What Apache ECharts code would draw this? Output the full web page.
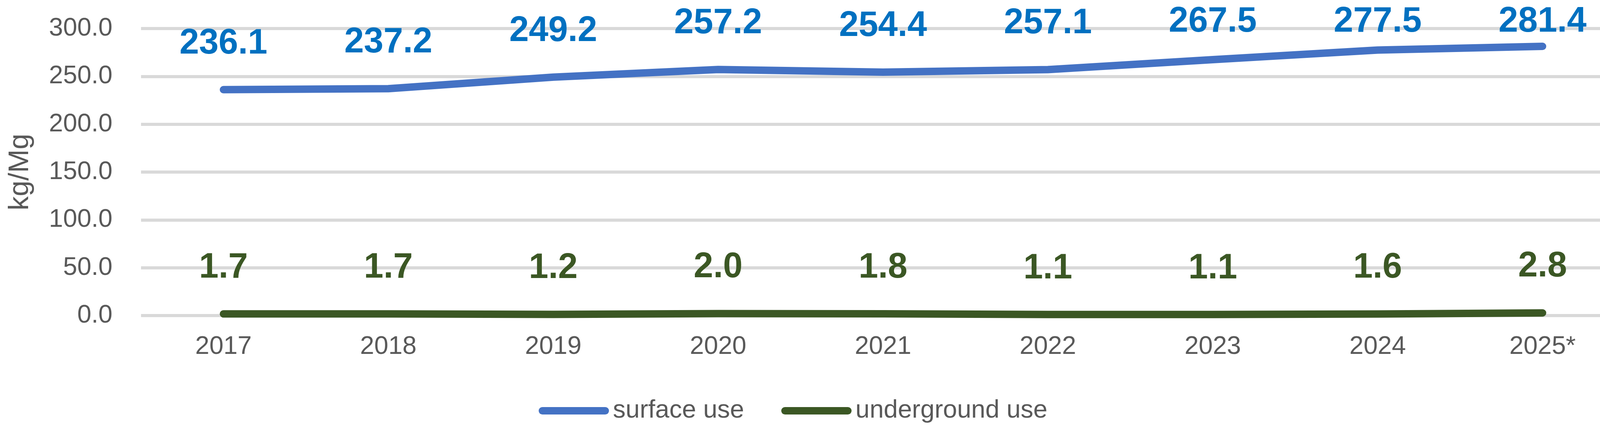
<!DOCTYPE html>
<html>
<head>
    <meta charset="utf-8">
    <title>kg/Mg surface and underground use</title>
    <script src="https://cdn.jsdelivr.net/npm/echarts@6.0.0/dist/echarts.min.js"></script>
    <style>
        html, body { margin: 0; padding: 0; background: #fff; }
        #chart { width: 4185px; height: 1115px; }
    </style>
</head>
<body>
    <div id="chart"></div>
    <script>
        var years = ['2017', '2018', '2019', '2020', '2021', '2022', '2023', '2024', '2025*'];
        var surfaceUse = [236.1, 237.2, 249.2, 257.2, 254.4, 257.1, 267.5, 277.5, 281.4];
        var undergroundUse = [1.7, 1.7, 1.2, 2.0, 1.8, 1.1, 1.1, 1.6, 2.8];
        var yTicks = { min: 0, max: 300, step: 50 };

        var font = '"Liberation Sans", Arial, sans-serif';
        var capsule = 'path://M9.5,0 H170.5 A9.5,9.5 0 0 1 170.5,19 H9.5 A9.5,9.5 0 0 1 9.5,0 Z';

        function lineSeries(name, data, lineColor, labelColor) {
            return {
                name: name,
                type: 'line',
                data: data,
                symbol: 'circle',
                symbolSize: 1,
                showSymbol: true,
                itemStyle: { color: lineColor },
                lineStyle: { color: lineColor, width: 19, cap: 'round', join: 'round' },
                label: {
                    show: true,
                    position: 'top',
                    distance: 72,
                    color: labelColor,
                    fontFamily: font,
                    fontSize: 90,
                    fontWeight: 'bold',
                    formatter: function (p) { return p.value.toFixed(1); }
                },
                // keep labels inside the chart like Excel does
                labelLayout: function (p) {
                    var top = 11;
                    if (p.labelRect.y < top) {
                        return { dy: top - p.labelRect.y };
                    }
                },
                emphasis: { disabled: true },
                animation: false
            };
        }

        var myChart = echarts.init(document.getElementById('chart'));
        var option = {
            backgroundColor: '#ffffff',
            animation: false,
            grid: { left: 361, right: 25, top: 73, bottom: 308, containLabel: false },
            legend: {
                data: [
                    { name: 'surface use', icon: capsule },
                    { name: 'underground use', icon: capsule }
                ],
                left: 1374,
                top: 1013,
                itemWidth: 180,
                itemHeight: 19,
                itemGap: 95,
                textStyle: { color: '#595959', fontFamily: font, fontSize: 65, padding: [0, 0, 0, 5] }
            },
            xAxis: {
                type: 'category',
                data: years,
                boundaryGap: true,
                axisLine: { show: false },
                axisTick: { show: false },
                splitLine: { show: false },
                axisLabel: { color: '#595959', fontFamily: font, fontSize: 65, margin: 48, interval: 0 }
            },
            yAxis: {
                type: 'value',
                min: yTicks.min,
                max: yTicks.max,
                interval: yTicks.step,
                name: 'kg/Mg',
                nameLocation: 'middle',
                nameGap: 273,
                nameRotate: 90,
                nameTextStyle: { color: '#595959', fontFamily: font, fontSize: 72 },
                axisLine: { show: false },
                axisTick: { show: false },
                splitLine: { lineStyle: { color: '#d9d9d9', width: 8 } },
                axisLabel: {
                    color: '#595959', fontFamily: font, fontSize: 65, margin: 73,
                    formatter: function (v) { return v.toFixed(1); }
                }
            },
            series: [
                lineSeries('surface use', surfaceUse, '#4472c4', '#0070c0'),
                lineSeries('underground use', undergroundUse, '#3b5724', '#3b5724')
            ]
        };
        myChart.setOption(option);
    </script>
</body>
</html>
